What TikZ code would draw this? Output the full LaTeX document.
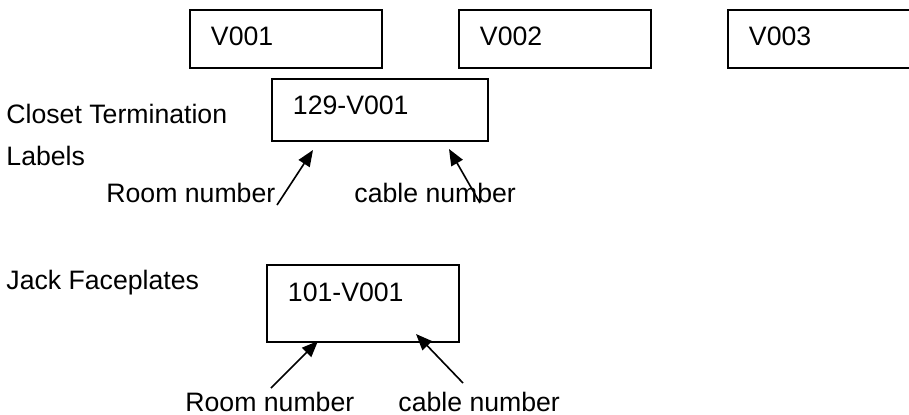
\documentclass[tikz,border=0pt]{standalone}
\usepackage{fontspec}
\setmainfont{Liberation Sans}
\usetikzlibrary{arrows.meta}
\newdimen\px \px=0.4615pt

\begin{document}
\begin{tikzpicture}[
  x=0.4615pt, y=-0.4615pt,
  every node/.style={font=\fontsize{12.3pt}{14pt}\selectfont},
  txt/.style={inner sep=0pt, anchor=base west},
  vbox/.style={draw, line width=0.9pt, anchor=north west, inner xsep=21\px, inner ysep=0pt,
               text width=150\px, align=left, text height=36\px, text depth=22\px},
  arrow/.style={-{Triangle[length=7.5pt, width=6pt]}, line width=0.75pt},
]
  \clip (0,0) rectangle (909,414);

  % cable labels along the top
  \node[vbox] (v1) at (189,9) {V001};
  \node[vbox] (v2) at (458,9) {V002};
  \node[vbox] (v3) at (727,9) {V003};

  % closet termination label
  \node[txt] (closet) at (6,123) {Closet Termination};
  \node[txt] (closetb) at (6,165) {Labels};
  \node[vbox, text width=174\px, text depth=26\px] (lbl129) at (271,78) {129-V001};
  \node[txt] (room1) at (106,202) {Room number};
  \node[txt] (cable1) at (354,202) {cable number};

  \coordinate (r1tail) at (277,205);
  \coordinate (r1tip) at (313,150);
  \coordinate (c1tail) at (480,203);
  \coordinate (c1tip) at (449,149);
  \draw[arrow] (r1tail) -- (r1tip);
  \draw[arrow] (c1tail) -- (c1tip);

  % jack faceplate
  \node[txt] (jack) at (6,289) {Jack Faceplates};
  \node[vbox, text height=37\px, text depth=40\px] (lbl101) at (266,264) {101-V001};
  \node[txt] (room2) at (185,411) {Room number};
  \node[txt] (cable2) at (398,411) {cable number};

  \coordinate (r2tail) at (271,388);
  \coordinate (r2tip) at (318,341);
  \coordinate (c2tail) at (463,383);
  \coordinate (c2tip) at (416,334);
  \draw[arrow] (r2tail) -- (r2tip);
  \draw[arrow] (c2tail) -- (c2tip);
\end{tikzpicture}
\end{document}
